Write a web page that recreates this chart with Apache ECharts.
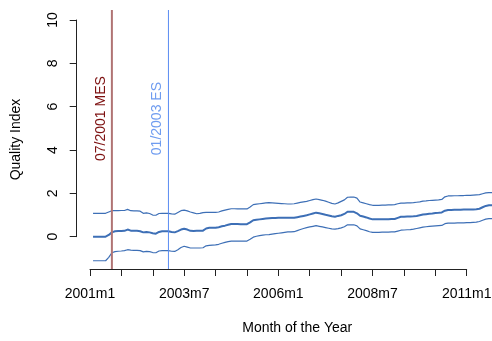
<!DOCTYPE html>
<html>
<head>
<meta charset="utf-8">
<script src="https://cdn.jsdelivr.net/npm/echarts@6/dist/echarts.min.js"></script>
<style>
  html, body { margin: 0; padding: 0; background: #ffffff; }
  #chart { width: 492px; height: 341px; }
</style>
</head>
<body>
<div id="chart"></div>
<script>
// Monthly quality index with upper / lower bands; month 1 = first observation.
const firstMonth = 1;

const qualityIndex = [
  0, 0, 0, 0, 0,
  0.08, 0.2, 0.25, 0.26, 0.26,
  0.27, 0.33, 0.28, 0.27, 0.27,
  0.25, 0.2, 0.22, 0.2, 0.16,
  0.14, 0.22, 0.25, 0.25, 0.25,
  0.22, 0.2, 0.26, 0.33, 0.37,
  0.33, 0.27, 0.26, 0.27, 0.27,
  0.28, 0.38, 0.41, 0.41, 0.41,
  0.44, 0.48, 0.51, 0.55, 0.59,
  0.59, 0.59, 0.58, 0.58, 0.58,
  0.66, 0.76, 0.78, 0.8, 0.82,
  0.84, 0.85, 0.86, 0.86, 0.87,
  0.87, 0.88, 0.88, 0.87, 0.87,
  0.9, 0.93, 0.96, 0.99, 1.03,
  1.07, 1.11, 1.08, 1.05, 1.01,
  0.98, 0.94, 0.92, 0.96, 0.99,
  1.05, 1.15, 1.15, 1.15, 1.08,
  0.97, 0.93, 0.89, 0.84, 0.8,
  0.8, 0.8, 0.81, 0.81, 0.81,
  0.82, 0.82, 0.87, 0.92, 0.92,
  0.93, 0.93, 0.94, 0.96, 0.99,
  1.02, 1.04, 1.06, 1.07, 1.09,
  1.1, 1.12, 1.2, 1.23, 1.23,
  1.24, 1.24, 1.24, 1.25, 1.25,
  1.25, 1.26, 1.27, 1.29, 1.36,
  1.42, 1.45, 1.45, 1.46, 1.47, 1.48
];

const upperBand = [
  1.08, 1.08, 1.08, 1.08, 1.08,
  1.14, 1.2, 1.2, 1.2, 1.21,
  1.21, 1.26, 1.2, 1.19, 1.19,
  1.18, 1.08, 1.1, 1.07, 1.0,
  0.99, 1.07, 1.08, 1.08, 1.08,
  1.05, 1.04, 1.12, 1.2, 1.23,
  1.19, 1.14, 1.1, 1.06, 1.08,
  1.11, 1.12, 1.12, 1.12, 1.12,
  1.14, 1.19, 1.23, 1.26, 1.29,
  1.29, 1.28, 1.28, 1.28, 1.28,
  1.37, 1.48, 1.5, 1.52, 1.54,
  1.56, 1.57, 1.56, 1.55, 1.54,
  1.53, 1.52, 1.51, 1.51, 1.52,
  1.55, 1.58, 1.61, 1.63, 1.67,
  1.71, 1.74, 1.71, 1.68, 1.64,
  1.59, 1.54, 1.51, 1.56, 1.63,
  1.7, 1.82, 1.83, 1.83, 1.78,
  1.6, 1.56, 1.52, 1.48, 1.45,
  1.45, 1.45, 1.46, 1.46, 1.47,
  1.47, 1.48, 1.52, 1.55, 1.55,
  1.56, 1.56, 1.57, 1.59, 1.61,
  1.64, 1.65, 1.67, 1.68, 1.69,
  1.7, 1.72, 1.84, 1.88, 1.88,
  1.89, 1.89, 1.9, 1.9, 1.91,
  1.91, 1.92, 1.93, 1.94, 1.98,
  2.02, 2.03, 2.03, 2.04, 2.05, 2.06
];

const lowerBand = [
  -1.11, -1.11, -1.11, -1.11, -1.11,
  -0.95, -0.74, -0.69, -0.67, -0.66,
  -0.64, -0.6, -0.62, -0.63, -0.63,
  -0.64, -0.7, -0.68, -0.69, -0.73,
  -0.74, -0.66, -0.64, -0.64, -0.64,
  -0.67, -0.68, -0.6, -0.5, -0.44,
  -0.48, -0.52, -0.52, -0.52, -0.52,
  -0.51, -0.42, -0.4, -0.39, -0.38,
  -0.35, -0.3, -0.26, -0.23, -0.2,
  -0.2, -0.2, -0.2, -0.2, -0.2,
  -0.12, -0.02, 0.02, 0.05, 0.07,
  0.09, 0.1, 0.12, 0.14, 0.16,
  0.18, 0.2, 0.22, 0.22, 0.23,
  0.28, 0.33, 0.38, 0.42, 0.45,
  0.48, 0.51, 0.48, 0.45, 0.42,
  0.39, 0.36, 0.35, 0.37, 0.41,
  0.46, 0.55, 0.55, 0.55, 0.5,
  0.36, 0.32, 0.28, 0.23, 0.2,
  0.2, 0.2, 0.21, 0.21, 0.21,
  0.22, 0.22, 0.26, 0.3, 0.31,
  0.32, 0.33, 0.35, 0.38, 0.41,
  0.44, 0.46, 0.48, 0.49, 0.5,
  0.51, 0.52, 0.6, 0.63, 0.63,
  0.63, 0.64, 0.64, 0.64, 0.65,
  0.65, 0.66, 0.67, 0.7, 0.76,
  0.81, 0.83, 0.83, 0.84, 0.85, 0.86
];

// Labelled x ticks (months since 2001m1) and y ticks
const xTickValues = [0, 30, 60, 90, 120];
const xTickLabels = ['2001m1', '2003m7', '2006m1', '2008m7', '2011m1'];
const yTickValues = [0, 2, 4, 6, 8, 10];

// Policy events
const eventMonths = [7, 25];
const eventLabels = ['07/2001 MES', '01/2003 ES'];

// ---- styling / layout ----
const FONT = '"Liberation Sans", Arial, Helvetica, sans-serif';
const LINE_BLUE = '#3d6fb6';
const EVENT_LINE_COLORS = ['#b07474', '#5a8cf2'];
const EVENT_TEXT_COLORS = ['#7d1010', '#6f9cf0'];
const PLOT_X_RANGE = [-4.2, 136.2];    // full plotting region (padded data range)
const PLOT_Y_RANGE = [-1.49, 10.46];
const EVENT_TEXT_Y = 5.45;
const EVENT_TEXT_SHIFT = 11;           // px to the left of each event line
const AXIS_COLOR = '#222';

const toPairs = arr => arr.map((v, i) => [firstMonth + i, v]);

const chart = echarts.init(document.getElementById('chart'), null, { renderer: 'canvas' });

const bandSeries = (name, data, width) => ({
  name, type: 'line', data: toPairs(data),
  xAxisIndex: 0, yAxisIndex: 0,
  symbol: 'none', silent: true,
  lineStyle: { color: LINE_BLUE, width },
  z: 3
});

const series = [
  bandSeries('upper', upperBand, 1.2),
  bandSeries('quality', qualityIndex, 2),
  bandSeries('lower', lowerBand, 1.2)
];

eventMonths.forEach((m, k) => {
  series.push({
    name: eventLabels[k], type: 'line',
    xAxisIndex: 0, yAxisIndex: 0,
    data: [[m, PLOT_Y_RANGE[0]], [m, PLOT_Y_RANGE[1]]],
    symbol: 'none', silent: true,
    lineStyle: { color: EVENT_LINE_COLORS[k], width: k === 0 ? 2 : 1 },
    z: 4
  });
});

const hiddenAxis = (gridIndex, range) => ({
  type: 'value', gridIndex, min: range[0], max: range[1], show: false,
  splitLine: { show: false }
});

chart.setOption({
  animation: false,
  backgroundColor: '#ffffff',
  grid: [
    // plotting region (runs past the right edge of the canvas)
    { left: 76.7, right: -25.8, top: 10, bottom: 72, outerBoundsMode: 'none' },
    // span of the drawn axes: first to last tick
    { left: 90, right: 25.3, top: 20, bottom: 104.3, outerBoundsMode: 'none' }
  ],
  xAxis: [
    hiddenAxis(0, PLOT_X_RANGE),
    {
      type: 'value', gridIndex: 1, min: 0, max: 120, interval: 10, offset: 32.3,
      axisLine: { show: true, onZero: false, lineStyle: { color: AXIS_COLOR, width: 1 } },
      axisTick: { show: true, length: 7, lineStyle: { color: AXIS_COLOR, width: 1 } },
      splitLine: { show: false },
      axisLabel: {
        margin: 18, color: '#000', fontSize: 14, fontFamily: FONT,
        formatter: v => {
          const idx = xTickValues.indexOf(v);
          return idx >= 0 ? xTickLabels[idx] : '';
        }
      }
    }
  ],
  yAxis: [
    hiddenAxis(0, PLOT_Y_RANGE),
    {
      type: 'value', gridIndex: 1, min: 0, max: 10, interval: 2, offset: 13.3,
      axisLine: { show: true, onZero: false, lineStyle: { color: AXIS_COLOR, width: 1 } },
      axisTick: { show: true, length: 7, lineStyle: { color: AXIS_COLOR, width: 1 } },
      splitLine: { show: false },
      axisLabel: {
        rotate: 90, margin: 17, color: '#000', fontSize: 14, fontFamily: FONT,
        formatter: v => (yTickValues.indexOf(v) >= 0 ? String(v) : '')
      }
    }
  ],
  series
});

// Axis titles and event annotations, positioned through the plotting scales
const pt = (x, y) => chart.convertToPixel({ gridIndex: 0 }, [x, y]);
const yTop = pt(0, PLOT_Y_RANGE[1])[1];
const yBot = pt(0, PLOT_Y_RANGE[0])[1];
const plotLeft = pt(PLOT_X_RANGE[0], 0)[0];
const plotRight = pt(PLOT_X_RANGE[1], 0)[0];

const graphics = [
  {
    type: 'text', x: 16, y: (yTop + yBot) / 2, rotation: Math.PI / 2,
    style: { text: 'Quality Index', fontSize: 14, fontFamily: FONT, fill: '#000',
             align: 'center', verticalAlign: 'middle' }
  },
  {
    type: 'text', x: (plotLeft + plotRight) / 2, y: 328,
    style: { text: 'Month of the Year', fontSize: 14, fontFamily: FONT, fill: '#000',
             align: 'center', verticalAlign: 'middle' }
  }
];

eventMonths.forEach((m, k) => {
  const p = pt(m, EVENT_TEXT_Y);
  graphics.push({
    type: 'text', x: p[0] - EVENT_TEXT_SHIFT, y: p[1], rotation: Math.PI / 2,
    style: { text: eventLabels[k], fontSize: 14, fontFamily: FONT,
             fill: EVENT_TEXT_COLORS[k], align: 'center', verticalAlign: 'middle' }
  });
});

chart.setOption({ graphic: graphics });
</script>
</body>
</html>
